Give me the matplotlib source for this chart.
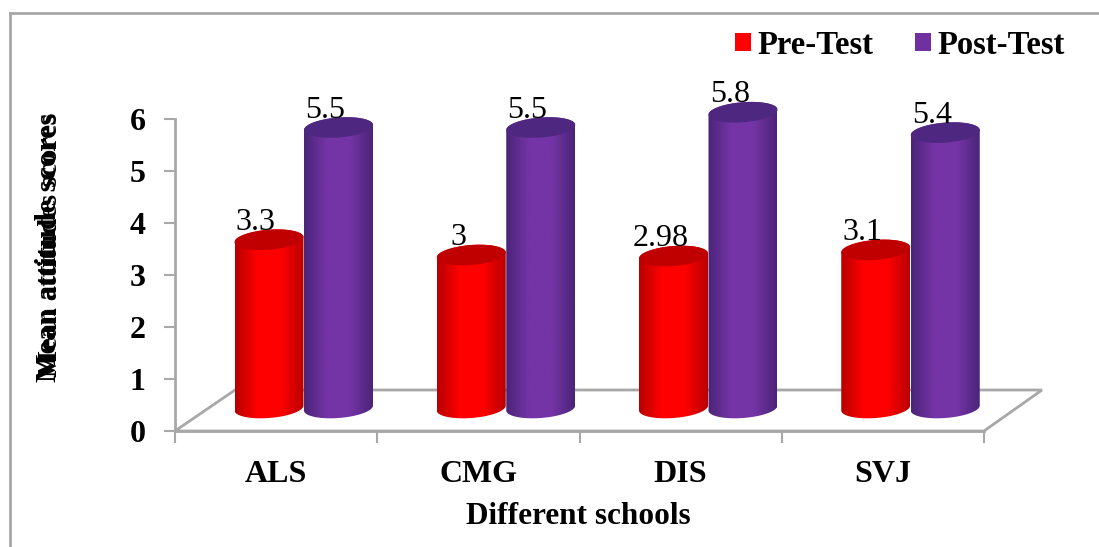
import numpy as np
import matplotlib
matplotlib.use("Agg")
import matplotlib.pyplot as plt
from matplotlib.colors import LinearSegmentedColormap
from matplotlib.lines import Line2D
from matplotlib.patches import Patch, PathPatch, Polygon
from matplotlib.path import Path

categories = ["ALS", "CMG", "DIS", "SVJ"]
series_names = ["Pre-Test", "Post-Test"]
pre_test = [3.3, 3, 2.98, 3.1]
post_test = [5.5, 5.5, 5.8, 5.4]
y_ticks = [0, 1, 2, 3, 4, 5, 6]

W, H = 1099, 547
plt.rcParams["font.family"] = ["Liberation Serif", "DejaVu Serif"]
fig = plt.figure(figsize=(W / 100, H / 100), dpi=100)
ax = fig.add_axes([175 / W, 1 - 431 / H, (984 - 175) / W, (431 - 119) / H])
ax.set_xlim(0, 4)
ax.set_ylim(0, 6)

GRAY = "#A8A8A8"
PX_X = (984 - 175) / 4
PX_Y = (431 - 119) / 6
BASE = (431 - 408) / PX_Y
BAR_W = 69 / PX_X
RX = BAR_W / 2
RY = 10 / PX_Y
TILT = 2.5 / PX_Y
HEIGHT_SCALE = 51 / PX_Y
OFFSETS = [(269 - 175) / PX_X, (338.5 - 175) / PX_X]

STYLES = [
    {"edge": "#B80000", "mid": "#FF0000", "cap": "#C00000"},
    {"edge": "#4A2478", "mid": "#7434A6", "cap": "#4E2780"},
]


def arc(cx, cy, start, stop):
    t = np.linspace(start, stop, 60)
    return np.column_stack([cx + RX * np.cos(t), cy + RY * np.sin(t) + TILT * np.cos(t)])


def draw_cylinder(cx, value, style):
    top = BASE + value * HEIGHT_SCALE
    body = np.vstack([arc(cx, BASE, np.pi, 2 * np.pi), arc(cx, top, 0, np.pi)])
    clip = PathPatch(Path(np.vstack([body, body[:1]])), transform=ax.transData,
                     facecolor="none", edgecolor="none", zorder=3)
    ax.add_patch(clip)
    clip.set_clip_on(False)
    cmap = LinearSegmentedColormap.from_list(
        "c", [style["edge"], style["mid"], style["mid"], style["edge"]])
    grad = np.linspace(0, 1, 256).reshape(1, -1)
    im = ax.imshow(grad, cmap=cmap, aspect="auto", zorder=3, interpolation="bilinear",
                   extent=[cx - RX, cx + RX, BASE - RY - TILT, top + RY + TILT])
    im.set_clip_box(fig.bbox)
    im.set_clip_path(clip)
    cap = Polygon(arc(cx, top, 0, 2 * np.pi), closed=True, facecolor=style["cap"],
                  edgecolor="none", zorder=4, clip_on=False)
    ax.add_patch(cap)
    ax.annotate(str(value), xy=(cx, top), xytext=(-9.5, 7), textcoords="offset points",
                ha="center", va="baseline", fontsize=23, color="black", zorder=5,
                annotation_clip=False)


# floor
floor = Polygon([(0, 0), (60 / PX_X, 41 / PX_Y), (4 + 58 / PX_X, 41 / PX_Y), (4, 0)],
                closed=True, facecolor="white", edgecolor=GRAY, linewidth=2, zorder=1,
                clip_on=False)
ax.add_patch(floor)

for i in range(len(categories)):
    for offset, values, style in zip(OFFSETS, (pre_test, post_test), STYLES):
        draw_cylinder(i + offset, values[i], style)

ax.set_xlim(0, 4)
ax.set_ylim(0, 6)

for side in ("top", "right"):
    ax.spines[side].set_visible(False)
for side in ("left", "bottom"):
    ax.spines[side].set_color(GRAY)
    ax.spines[side].set_linewidth(2)

ax.set_yticks(y_ticks)
ax.tick_params(axis="y", length=8, width=1.5, color=GRAY, pad=13, labelsize=23)
for lab in ax.get_yticklabels():
    lab.set_fontweight("bold")

ax.set_xticks(range(len(categories) + 1))
ax.set_xticklabels([])
ax.tick_params(axis="x", which="major", length=8.5, width=1.5, color=GRAY)
ax.set_xticks(np.arange(len(categories)) + 0.5, minor=True)
ax.set_xticklabels(categories, minor=True, fontweight="bold", fontsize=23)
ax.tick_params(axis="x", which="minor", length=0, pad=21)

ax.set_xlabel("Different schools", fontweight="bold", fontsize=22.5)
ax.xaxis.set_label_coords((578 - 175) / (984 - 175), (431 - 502) / (431 - 119))

# overlapping y titles, as in the source image
fig.text(49 / W, 1 - 247 / H, "Mean attitude scores", rotation=90, ha="center", va="center",
         fontsize=21.9, fontweight="bold")
fig.text(51 / W, 1 - 245 / H, "Mean attitudes scores", rotation=90, ha="center", va="center",
         fontsize=20.5, fontweight="bold")

handles = [Patch(facecolor="#FF0000", label=series_names[0]),
           Patch(facecolor="#7030A0", label=series_names[1])]
ax.legend(handles=handles, ncol=2, frameon=False, loc="center",
          prop={"family": "Liberation Serif", "weight": "bold", "size": 23.5},
          bbox_to_anchor=(900 / W, 1 - 45 / H), bbox_transform=fig.transFigure,
          handlelength=0.49, handleheight=0.49, handletextpad=0.2, columnspacing=1.25)

# outer frame
fig.add_artist(Line2D([10 / W, 10 / W], [0, 1 - 13 / H], color=GRAY, linewidth=2))
fig.add_artist(Line2D([10 / W, 1], [1 - 13 / H, 1 - 13 / H], color=GRAY, linewidth=2))

fig.savefig("out.png", dpi=100)
